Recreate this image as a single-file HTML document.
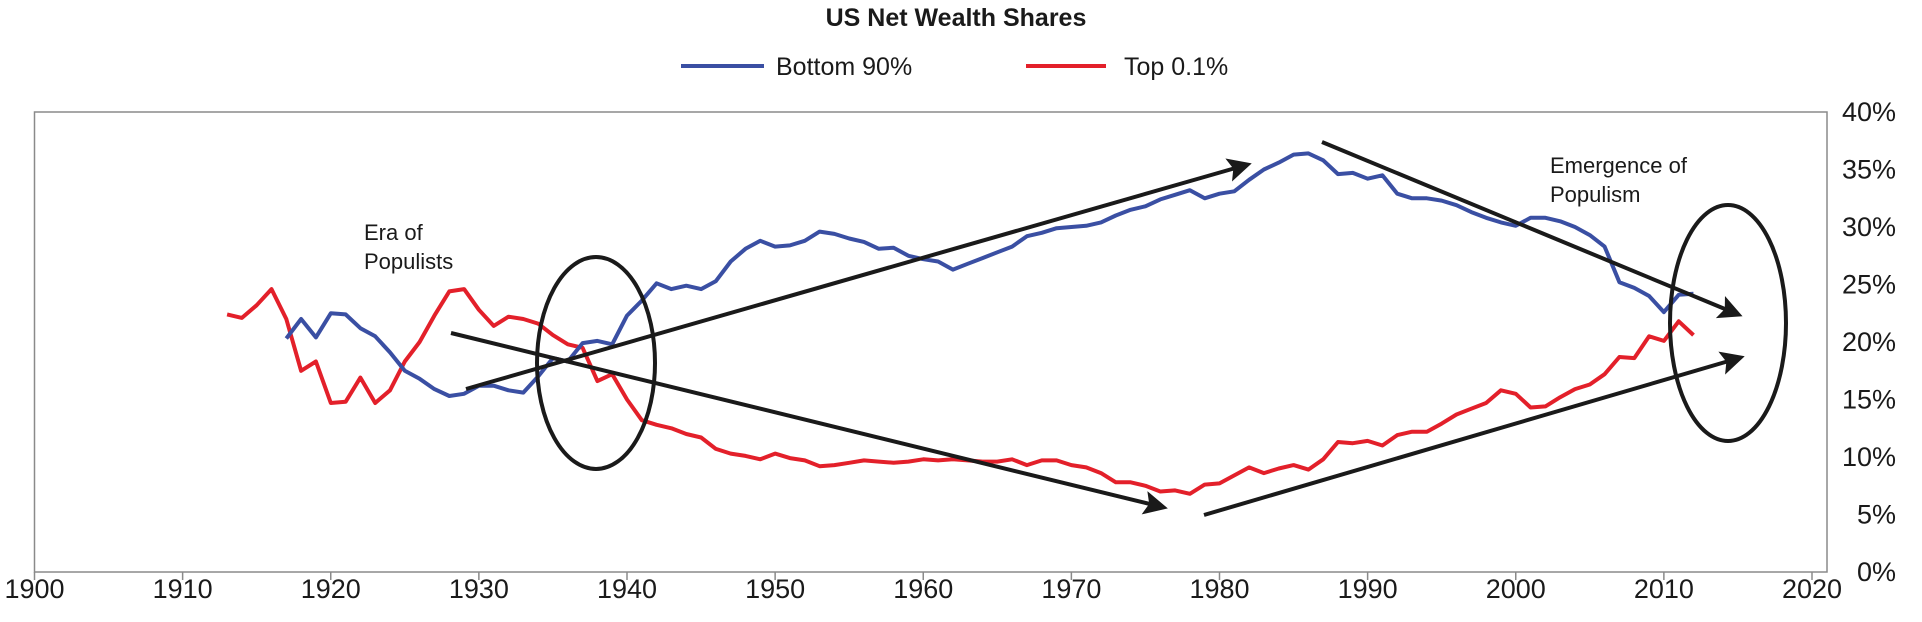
<!DOCTYPE html>
<html><head><meta charset="utf-8"><style>
html,body{margin:0;padding:0;background:#fff;}
svg{display:block;font-family:"Liberation Sans",sans-serif;}
</style></head><body>
<svg id="chart" width="1922" height="622" viewBox="0 0 1922 622">
<defs><marker id="ah" markerWidth="6" markerHeight="6" refX="4.5" refY="3" orient="auto" markerUnits="strokeWidth"><path d="M0,0 L6,3 L0,6 L1.2,3 Z" fill="#1a1a1a"/></marker></defs>
<text x="956" y="26" text-anchor="middle" font-size="25" font-weight="bold" fill="#1a1a1a">US Net Wealth Shares</text>
<g>
<g><line x1="681" y1="66" x2="764" y2="66" stroke="#3a4fa3" stroke-width="4"/><text x="776" y="75" font-size="25" fill="#1a1a1a">Bottom 90%</text></g>
<g><line x1="1026" y1="66" x2="1106" y2="66" stroke="#e3202a" stroke-width="4"/><text x="1124" y="75" font-size="25" fill="#1a1a1a">Top 0.1%</text></g>
</g>
<rect x="34.5" y="112" width="1792.5" height="460" fill="none" stroke="#8a8a8a" stroke-width="1.5"/>
<g id="xaxis"></g>
<g id="yaxis"></g>
<g id="series"></g>
<g stroke="#1a1a1a" stroke-width="4" fill="none">
<ellipse cx="596" cy="363" rx="59" ry="106"/>
<ellipse cx="1728" cy="323" rx="58" ry="118"/>
<line x1="466" y1="389" x2="1246" y2="165" marker-end="url(#ah)"/>
<line x1="451" y1="333" x2="1162" y2="507" marker-end="url(#ah)"/>
<line x1="1322" y1="142" x2="1737" y2="314" marker-end="url(#ah)"/>
<line x1="1204" y1="515" x2="1739" y2="358" marker-end="url(#ah)"/>
</g>
<g font-size="22" fill="#1a1a1a">
<text x="364" y="240"><tspan x="364">Era of</tspan><tspan x="364" dy="29">Populists</tspan></text>
<text x="1550" y="173"><tspan x="1550">Emergence of</tspan><tspan x="1550" dy="29">Populism</tspan></text>
</g>
</svg>
<script>
const xTicks=[1900,1910,1920,1930,1940,1950,1960,1970,1980,1990,2000,2010,2020];
const yTicks=[0,5,10,15,20,25,30,35,40];
const topYears=[];for(let y=1913;y<=2012;y++)topYears.push(y);
const topShare=[22.4,22.1,23.2,24.6,22,17.5,18.3,14.7,14.8,16.9,14.7,15.8,18.3,20.0,22.3,24.4,24.6,22.8,21.4,22.2,22.0,21.6,20.6,19.8,19.5,16.6,17.2,15.0,13.2,12.8,12.5,12.0,11.7,10.7,10.3,10.1,9.8,10.3,9.9,9.7,9.2,9.3,9.5,9.7,9.6,9.5,9.6,9.8,9.7,9.8,9.7,9.6,9.6,9.8,9.3,9.7,9.7,9.3,9.1,8.6,7.8,7.8,7.5,7.0,7.1,6.8,7.6,7.7,8.4,9.1,8.6,9.0,9.3,8.9,9.8,11.3,11.2,11.4,11.0,11.9,12.2,12.2,12.9,13.7,14.2,14.7,15.8,15.5,14.3,14.4,15.2,15.9,16.3,17.2,18.7,18.6,20.5,20.1,21.8,20.6];
const botYears=[];for(let y=1917;y<=2012;y++)botYears.push(y);
const botShare=[20.3,22.0,20.4,22.5,22.4,21.2,20.5,19.1,17.5,16.8,15.9,15.3,15.5,16.2,16.2,15.8,15.6,17.0,18.6,18.3,19.9,20.1,19.8,22.3,23.6,25.1,24.6,24.9,24.6,25.3,27.0,28.1,28.8,28.3,28.4,28.8,29.6,29.4,29.0,28.7,28.1,28.2,27.5,27.2,27.0,26.3,26.8,27.3,27.8,28.3,29.2,29.5,29.9,30.0,30.1,30.4,31.0,31.5,31.8,32.4,32.8,33.2,32.5,32.9,33.1,34.1,35.0,35.6,36.3,36.4,35.8,34.6,34.7,34.2,34.5,32.9,32.5,32.5,32.3,31.9,31.3,30.8,30.4,30.1,30.8,30.8,30.5,30.0,29.3,28.3,25.2,24.7,24.0,22.6,24.1,24.2];
const NS='http://www.w3.org/2000/svg';
function X(yr){return 34.5+(yr-1900)*(1777.5/120);}
function Y(p){return 572-p*11.5;}
function mk(t,a,parent){const e=document.createElementNS(NS,t);for(const k in a)e.setAttribute(k,a[k]);parent.appendChild(e);return e;}
const xa=document.getElementById('xaxis'),ya=document.getElementById('yaxis'),sg=document.getElementById('series');
xTicks.forEach(t=>{
  const l=mk('line',{x1:X(t),x2:X(t),y1:572,y2:580,stroke:'#8a8a8a','stroke-width':1.5},xa);
  
  
  const tx=mk('text',{x:X(t),y:598,'text-anchor':'middle','font-size':27,fill:'#1a1a1a'},xa);
  tx.textContent=t;
  
  
});
yTicks.forEach(t=>{
  const tx=mk('text',{x:1896,y:Y(t)+9,'text-anchor':'end','font-size':27,fill:'#1a1a1a'},ya);
  tx.textContent=t+'%';
  
  
});
function line(xs,vs,color,name){
  const d=xs.map((x,i)=>(i?'L':'M')+X(x).toFixed(1)+','+Y(vs[i]).toFixed(1)).join(' ');
  const p=mk('path',{d:d,fill:'none',stroke:color,'stroke-width':4,'stroke-linejoin':'round'},sg);
  
  
}
line(topYears,topShare,'#e3202a','top-0-1-line');
line(botYears,botShare,'#3a4fa3','bottom-90-line');
</script>
</body></html>
